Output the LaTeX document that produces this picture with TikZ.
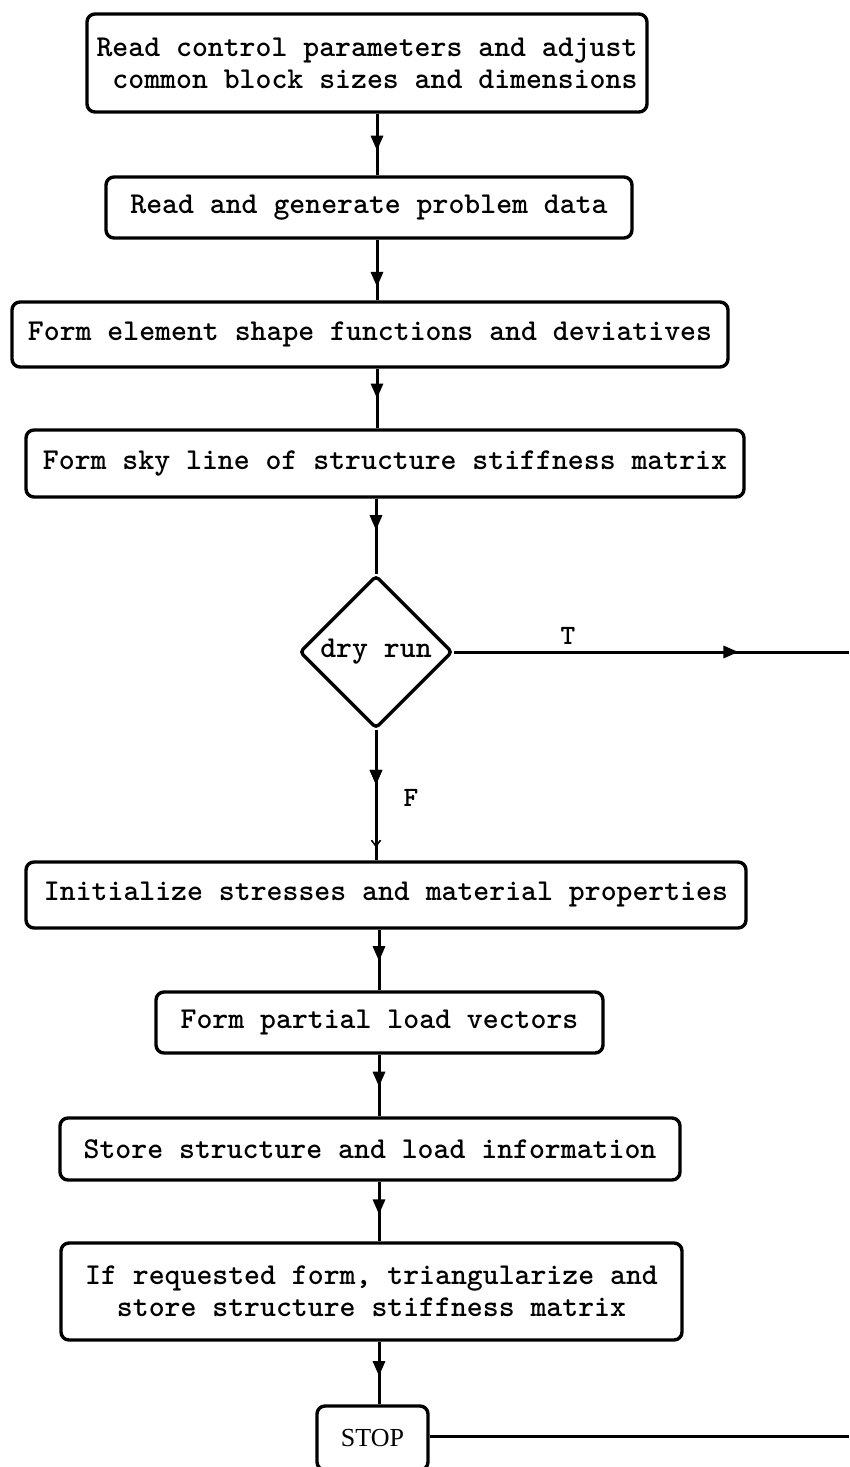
\documentclass[tikz,border=0pt]{standalone}
\usepackage{fontspec}
\newfontfamily\stopfont{Liberation Serif}
\newcommand\twfont{\ttfamily\bfseries\fontsize{30.3pt}{32pt}\selectfont}
\newcommand\lblfont{\ttfamily\bfseries\fontsize{28pt}{30pt}\selectfont}
\usetikzlibrary{shapes.geometric,arrows.meta,decorations.markings}
\tikzset{
  box/.style={draw, line width=3.4pt, rounded corners=8pt, inner sep=0pt,
    font=\twfont, align=center},
  dia/.style={draw, diamond, line width=3.4pt, rounded corners=4pt, inner sep=0pt,
    minimum width=153pt, minimum height=153pt, font=\twfont},
  flow/.style={line width=3pt},
  midarrow/.style={postaction={decorate}, decoration={markings,
    mark=at position #1 with {\arrow{Triangle[length=15pt,width=12pt]}}}},
  lbl/.style={font=\lblfont, inner sep=0pt},
}
\begin{document}
\begin{tikzpicture}[x=1pt,y=-1pt]
\useasboundingbox (0,0) rectangle (849,1467);
\clip (0,0) rectangle (849,1467);
\fill[white] (0,0) rectangle (849,1467);

\node[box, minimum width=560pt, minimum height=98pt] (b1) at (367,63)
  {Read control parameters and adjust\\\ common block sizes and dimensions};
\node[box, minimum width=526pt, minimum height=61pt] (b2) at (369,207.5)
  {Read and generate problem data};
\node[box, minimum width=716pt, minimum height=65pt] (b3) at (370,334.5)
  {Form element shape functions and deviatives};
\node[box, minimum width=718pt, minimum height=67pt] (b4) at (385,463.5)
  {Form sky line of structure stiffness matrix};
\node[dia] (d) at (376,652) {dry run};
\node[box, minimum width=720pt, minimum height=66pt] (b5) at (386,895)
  {Initialize stresses and material properties};
\node[box, minimum width=447pt, minimum height=61pt] (b6) at (379.5,1022.5)
  {Form partial load vectors};
\node[box, minimum width=620pt, minimum height=62pt] (b7) at (370,1149)
  {Store structure and load information};
\node[box, minimum width=621pt, minimum height=97pt] (b8) at (371.5,1291.5)
  {If requested form, triangularize and\\store structure stiffness matrix};
\node[box, minimum width=111pt, minimum height=64pt, font=\stopfont\fontsize{26pt}{28pt}\selectfont] (stop) at (372.5,1438) {STOP};

\coordinate (axisA) at (377,0);
\coordinate (axisB) at (379,0);
\coordinate (rightT) at (849,652);
\coordinate (rightS) at (849,1436);

\draw[flow, midarrow=0.6] (b1.south -| axisA) -- (b2.north -| axisA);
\draw[flow, midarrow=0.78] (b2.south -| axisA) -- (b3.north -| axisA);
\draw[flow, midarrow=0.5] (b3.south -| axisA) -- (b4.north -| axisA);
\draw[flow, midarrow=0.42] (b4.south -| d.north) -- (d.north);
\draw[flow, midarrow=0.42, postaction={decorate}, decoration={markings,
    mark=at position 0.9 with {\arrow[line width=1.3pt]{Straight Barb[length=6pt,width=9pt]}}}]
  (d.south) -- (b5.north -| d.south);
\draw[flow, midarrow=0.72] (d.east) -- (rightT);
\draw[flow, midarrow=0.52] (b5.south -| axisB) -- (b6.north -| axisB);
\draw[flow, midarrow=0.52] (b6.south -| axisB) -- (b7.north -| axisB);
\draw[flow, midarrow=0.55] (b7.south -| axisB) -- (b8.north -| axisB);
\draw[flow, midarrow=0.55] (b8.south -| axisB) -- (stop.north -| axisB);
\draw[flow] (stop.east |- rightS) -- (rightS);

\node[lbl] (tl) at (568,636) {T};
\node[lbl] (fl) at (411,798) {F};
\end{tikzpicture}
\end{document}
